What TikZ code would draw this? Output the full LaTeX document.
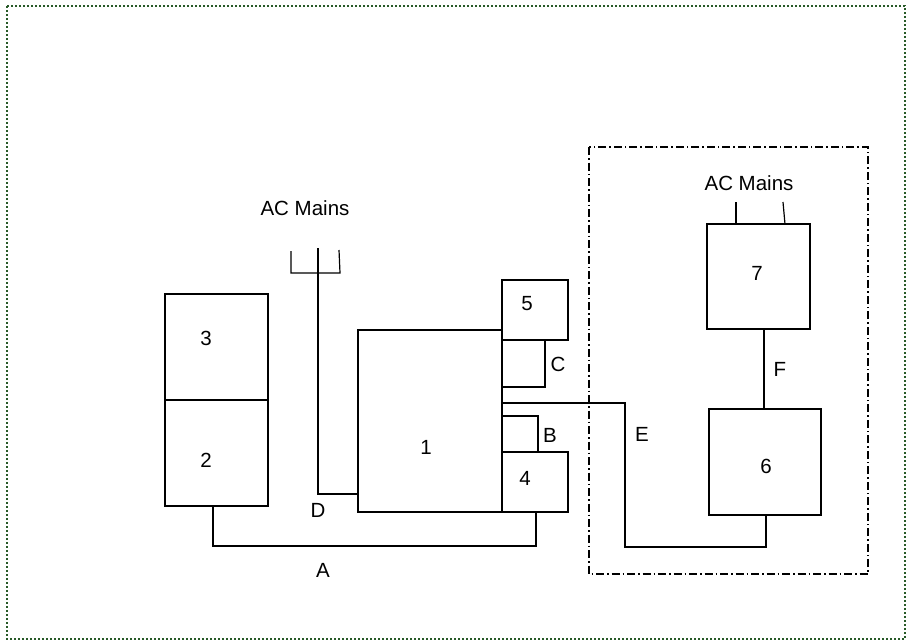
\documentclass[tikz,border=0pt]{standalone}
\usepackage{fontspec}
\setmainfont{Liberation Sans}
\begin{document}
\begin{tikzpicture}[x=1pt,y=-1pt,
  box/.style={draw,line width=1.2pt,inner sep=0pt,outer sep=0pt},
  wire/.style={draw,line width=1.2pt},
  lbl/.style={inner sep=0pt,font=\fontsize{20.5}{24}\selectfont}]
\useasboundingbox (0,0) rectangle (907,641);
% outer dotted frame
\definecolor{framegreen}{RGB}{40,90,40}
\draw[framegreen,line width=1.6pt,dash pattern=on 1.6pt off 2.4pt] (7,6) rectangle (905,639);
% dash-dot enclosure
\draw[line width=1.2pt,dash pattern=on 8pt off 3pt on 1.5pt off 3pt] (589,147) rectangle (868,574);
% boxes
\node[box,minimum width=103pt,minimum height=106pt] (b3) at (216.5,347) {};
\node[box,minimum width=103pt,minimum height=106pt] (b2) at (216.5,453) {};
\node[box,minimum width=144pt,minimum height=182pt] (b1) at (430,421) {};
\node[box,minimum width=66pt,minimum height=60pt] (b5) at (535,310) {};
\node[box,minimum width=66pt,minimum height=60pt] (b4) at (535,482) {};
\node[box,minimum width=103pt,minimum height=105pt] (b7) at (758.5,276.5) {};
\node[box,minimum width=112pt,minimum height=106pt] (b6) at (765,462) {};
% box labels
\node[lbl] (t3) at (206,338) {3};
\node[lbl] (t2) at (206,460) {2};
\node[lbl] (t1) at (426,447) {1};
\node[lbl] (t5) at (527,304) {5};
\node[lbl] (t4) at (525,478) {4};
\node[lbl] (t7) at (757,273) {7};
\node[lbl] (t6) at (766,466) {6};
% connector labels
\node[lbl] (lacl) at (305,208) {AC Mains};
\node[lbl] (lacr) at (749,183) {AC Mains};
\node[lbl] (lc) at (558,364) {C};
\node[lbl] (lb) at (550,435) {B};
\node[lbl] (le) at (642,434) {E};
\node[lbl] (lf) at (780,369) {F};
\node[lbl] (ld) at (318,510) {D};
\node[lbl] (la) at (323,570) {A};
% coordinates
\coordinate (c1) at (545,387);
\coordinate (bb) at (538,416);
\coordinate (e1) at (625,403);
\coordinate (e2) at (766,547);
\coordinate (a1) at (213,546);
\coordinate (a2) at (536,546);
\coordinate (d0) at (318,248);
\coordinate (d1) at (318,494);
\coordinate (p1) at (291,251);
\coordinate (p2) at (291,273);
\coordinate (p3) at (340,273);
\coordinate (p4) at (339,250);
\coordinate (f) at (764,0);
\coordinate (r1) at (736,202);
\coordinate (r2) at (783,202);
\coordinate (r3) at (785,224);
% connectors
\draw[wire] (b5.south -| c1) -- (c1) -- (c1 -| b1.east);
\draw[wire] (b4.north -| bb) -- (bb) -- (bb -| b1.east);
\draw[wire] (e1 -| b1.east) -- (e1) |- (e2) -- (e2 |- b6.south);
\draw[wire] (a1 |- b2.south) -- (a1) -- (a2) -- (a2 |- b4.south);
\draw[wire] (d0) -- (d1) -- (d1 -| b1.west);
\draw[wire] (p1) -- (p2) -- (p3) -- (p4);
\draw[wire] (b7.south -| f) -- (b6.north -| f);
\draw[wire] (r1) -- (r1 |- b7.north);
\draw[wire] (r2) -- (r3);
\end{tikzpicture}
\end{document}
